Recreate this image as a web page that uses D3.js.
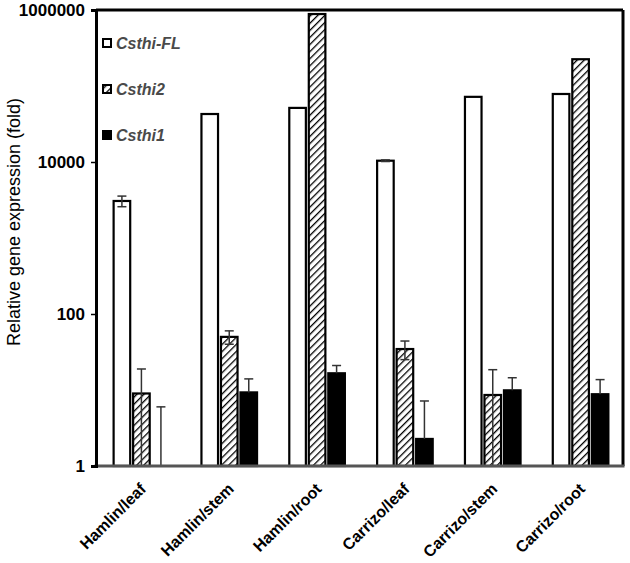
<!DOCTYPE html>
<html><head><meta charset="utf-8">
<script src="https://cdn.jsdelivr.net/npm/d3@7"></script>
<style>
body{margin:0;background:#fff;}
svg{display:block;font-family:"Liberation Sans",Arial,sans-serif;}
</style></head>
<body><svg id="chart" width="630" height="563"></svg>
<script>
const categories = ["Hamlin/leaf","Hamlin/stem","Hamlin/root","Carrizo/leaf","Carrizo/stem","Carrizo/root"];
const seriesNames = ["Csthi-FL","Csthi2","Csthi1"];
const csthiFL  = [3070, 42800, 51500, 10400, 72000, 78500];
const csthiFLerr = [490, 0, 0, 250, 0, 0];
const csthi2   = [9.0, 50, 885000, 34.6, 8.6, 225000];
const csthi2err = [9.9, 10, 0, 9.5, 9.9, 0];
const csthi1   = [1, 9.3, 16.6, 2.27, 9.9, 8.8];
const csthi1err = [5, 4.7, 4.4, 4.9, 4.6, 4.9];
const yTicks = [1, 100, 10000, 1000000];

const W = 630, H = 563;
const margin = {top: 10, right: 7, bottom: 97, left: 96};
const iw = W - margin.left - margin.right, ih = H - margin.top - margin.bottom;
const svg = d3.select("#chart");
const defs = svg.append("defs");
const pat = defs.append("pattern").attr("id","hatch").attr("patternUnits","userSpaceOnUse")
  .attr("width",5).attr("height",5).attr("patternTransform","rotate(45)");
pat.append("rect").attr("width",5).attr("height",5).attr("fill","#fff");
pat.append("line").attr("x1",0).attr("y1",0).attr("x2",0).attr("y2",5).attr("stroke","#000").attr("stroke-width",2.6);

const g = svg.append("g").attr("transform",`translate(${margin.left},${margin.top})`);
const x0 = d3.scaleBand().domain(categories).range([0, iw]).paddingInner(0).paddingOuter(0);
const x1 = d3.scaleBand().domain(seriesNames).range([-26.3, 29.3]).paddingInner(0.15).paddingOuter(0);
const y = d3.scaleLog().domain([1, 1000000]).range([ih, 0]);

const vals = [csthiFL, csthi2, csthi1];
const errs = [csthiFLerr, csthi2err, csthi1err];
const fills = ["#fff", "url(#hatch)", "#000"];
const data = [];
categories.forEach((c, i) => seriesNames.forEach((s, j) => data.push({c, s, j, v: vals[j][i], e: errs[j][i]})));

const bx = d => x0(d.c) + x0.bandwidth()/2 + x1(d.s);
g.selectAll("rect.bar").data(data.filter(d => d.v > 1)).join("rect").attr("class","bar")
  .attr("x", bx).attr("width", x1.bandwidth())
  .attr("y", d => y(d.v)).attr("height", d => ih - y(d.v))
  .attr("fill", d => fills[d.j]).attr("stroke","#000").attr("stroke-width",2.2);

// error bars
const eb = g.selectAll("g.err").data(data.filter(d => d.e > 0)).join("g").attr("class","err")
  .attr("stroke","#333").attr("stroke-width",1.5);
const cx = d => bx(d) + x1.bandwidth()/2;
const lowV = d => d.j === 2 ? d.v : Math.max(1, d.v - d.e);
eb.append("line").attr("x1",cx).attr("x2",cx)
  .attr("y1", d => y(lowV(d))).attr("y2", d => y(d.v + d.e));
eb.append("line").attr("x1", d => cx(d)-4.5).attr("x2", d => cx(d)+4.5)
  .attr("y1", d => y(d.v + d.e)).attr("y2", d => y(d.v + d.e));
eb.filter(d => d.j !== 2 && d.v - d.e > 1).append("line").attr("x1", d => cx(d)-4.5).attr("x2", d => cx(d)+4.5)
  .attr("y1", d => y(d.v - d.e)).attr("y2", d => y(d.v - d.e));

// frame
g.append("line").attr("x1",0).attr("x2",iw).attr("y1",0).attr("y2",0).attr("stroke","#000").attr("stroke-width",3);
g.append("line").attr("x1",iw).attr("x2",iw).attr("y1",0).attr("y2",ih).attr("stroke","#000").attr("stroke-width",3);
g.append("line").attr("x1",-1.5).attr("x2",iw+1.5).attr("y1",ih).attr("y2",ih).attr("stroke","#555").attr("stroke-width",3);

// y axis
const ya = g.append("g").call(d3.axisLeft(y).tickValues(yTicks).tickFormat(d3.format("d")).tickSize(5).tickPadding(6));
ya.select(".domain").attr("stroke","#000").attr("stroke-width",3);
ya.selectAll(".tick line").attr("stroke","#000").attr("stroke-width",1.5);
ya.selectAll(".tick text").attr("font-family","Liberation Sans, Arial, sans-serif").attr("font-size",17).attr("font-weight","bold").attr("fill","#000");

// x labels
const xl = g.append("g").selectAll("g.xl").data(categories).join("g").attr("class","xl")
  .attr("transform", d => `translate(${x0(d)+x0.bandwidth()/2+7},${ih+24})`);
xl.append("g").attr("transform","rotate(-45)")
  .append("text").attr("text-anchor","end").attr("font-size",16).attr("font-weight","bold").attr("fill","#000").text(d => d);

// y label
svg.append("text").attr("transform",`translate(20,${margin.top+ih/2-16}) rotate(-90)`)
  .attr("text-anchor","middle").attr("font-size",18).attr("fill","#000").text("Relative gene expression (fold)");

// legend
const legY = [43, 89, 135];
const lg = g.append("g");
seriesNames.forEach((s, j) => {
  lg.append("rect").attr("x", 103-margin.left).attr("y", legY[j]-margin.top-4).attr("width",8).attr("height",8)
    .attr("fill", fills[j]).attr("stroke","#000").attr("stroke-width",2);
  lg.append("text").attr("x", 116-margin.left).attr("y", legY[j]-margin.top).attr("dy","0.35em")
    .attr("font-size",16).attr("font-weight","bold").attr("font-style","italic").attr("fill","#4a4a4a").text(s);
});
</script></body></html>
